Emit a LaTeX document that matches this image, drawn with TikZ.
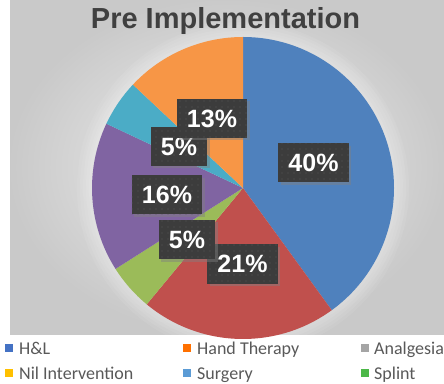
\documentclass[tikz,border=0pt]{standalone}
\usepackage{fontspec}
\setmainfont{Liberation Sans}
\newfontfamily\legendfont{Carlito}
\usetikzlibrary{shadows,patterns.meta}
\definecolor{cBlue}{HTML}{4F81BD}
\definecolor{cRed}{HTML}{C0504D}
\definecolor{cGreen}{HTML}{9BBB59}
\definecolor{cPurple}{HTML}{8064A2}
\definecolor{cCyan}{HTML}{4BACC6}
\definecolor{cOrange}{HTML}{F79646}
\definecolor{lBlue}{HTML}{4472C4}
\definecolor{lOrange}{HTML}{FF7000}
\definecolor{lGray}{HTML}{A5A5A5}
\definecolor{lYellow}{HTML}{FFC000}
\definecolor{lSky}{HTML}{5B9BD5}
\definecolor{lGreen}{HTML}{4CB848}
\definecolor{boxGray}{HTML}{3C3C3C}
\definecolor{dotGray}{HTML}{5A5A5A}
\definecolor{titleGray}{HTML}{404040}
\definecolor{legGray}{HTML}{595959}
\tikzset{
  pct/.style={draw=none, fill=boxGray, text=white, font=\bfseries\fontsize{25}{25}\selectfont,
    inner xsep=10pt, inner ysep=0pt, minimum height=39pt,
    preaction={drop shadow={shadow xshift=2.5pt, shadow yshift=-2.5pt, opacity=0.45}},
    postaction={pattern={Dots[distance=6pt, radius=0.55pt]}, pattern color=dotGray}},
  legtext/.style={anchor=base west, inner sep=0pt, text=legGray, font=\legendfont\fontsize{18}{18}\selectfont},
  legmark/.style={minimum size=8pt, inner sep=0pt, draw=none}
}
\begin{document}
\begin{tikzpicture}[x=1pt,y=1pt]
\useasboundingbox (0,0) rectangle (444,383);
\fill[white] (0,0) rectangle (444,383);
% panel
\shade[inner color=gray!12, outer color=gray!42] (10,49) rectangle (444,383);
\begin{scope}
\clip (10,49) rectangle (444,383);
\foreach \r in {166,163,160,157,154} {
  \fill[white, opacity=0.07] (243,195) circle[radius=\r];
}
\end{scope}
% pie
\coordinate (c) at (243,195);
\fill[cBlue]   (c) -- ++(90:151)     arc[start angle=90,     end angle=-54,    radius=151] -- cycle;
\fill[cRed]    (c) -- ++(-54:151)    arc[start angle=-54,    end angle=-129.6, radius=151] -- cycle;
\fill[cGreen]  (c) -- ++(-129.6:151) arc[start angle=-129.6, end angle=-147.6, radius=151] -- cycle;
\fill[cPurple] (c) -- ++(-147.6:151) arc[start angle=-147.6, end angle=-205.2, radius=151] -- cycle;
\fill[cCyan]   (c) -- ++(-205.2:151) arc[start angle=-205.2, end angle=-223.2, radius=151] -- cycle;
\fill[cOrange] (c) -- ++(-223.2:151) arc[start angle=-223.2, end angle=-270,   radius=151] -- cycle;
% title
\node[anchor=base, inner sep=0pt, text=titleGray, font=\bfseries\fontsize{29}{29}\selectfont] (title) at (225.5,354) {Pre Implementation};
% labels
\node[pct] (p40) at (313.5,220) {40\%};
\node[pct] (p21) at (242.5,119) {21\%};
\node[pct] (p5b) at (187,143.5) {5\%};
\node[pct] (p16) at (167,188) {16\%};
\node[pct] (p5a) at (179,236.5) {5\%};
\node[pct] (p13) at (212,264.5) {13\%};
% legend
\node[legmark, fill=lBlue]   (m1) at (9,35) {};
\node[legtext] (t1) at (19,29) {H\&L};
\node[legmark, fill=lOrange] (m2) at (187,35) {};
\node[legtext] (t2) at (197,29) {Hand Therapy};
\node[legmark, fill=lGray]   (m3) at (365,35) {};
\node[legtext] (t3) at (374,29) {Analgesia};
\node[legmark, fill=lYellow] (m4) at (9,10) {};
\node[legtext] (t4) at (19,4) {Nil Intervention};
\node[legmark, fill=lSky]    (m5) at (187,10) {};
\node[legtext] (t5) at (197,4) {Surgery};
\node[legmark, fill=lGreen]  (m6) at (365,10) {};
\node[legtext] (t6) at (374,4) {Splint};
\end{tikzpicture}
\end{document}
